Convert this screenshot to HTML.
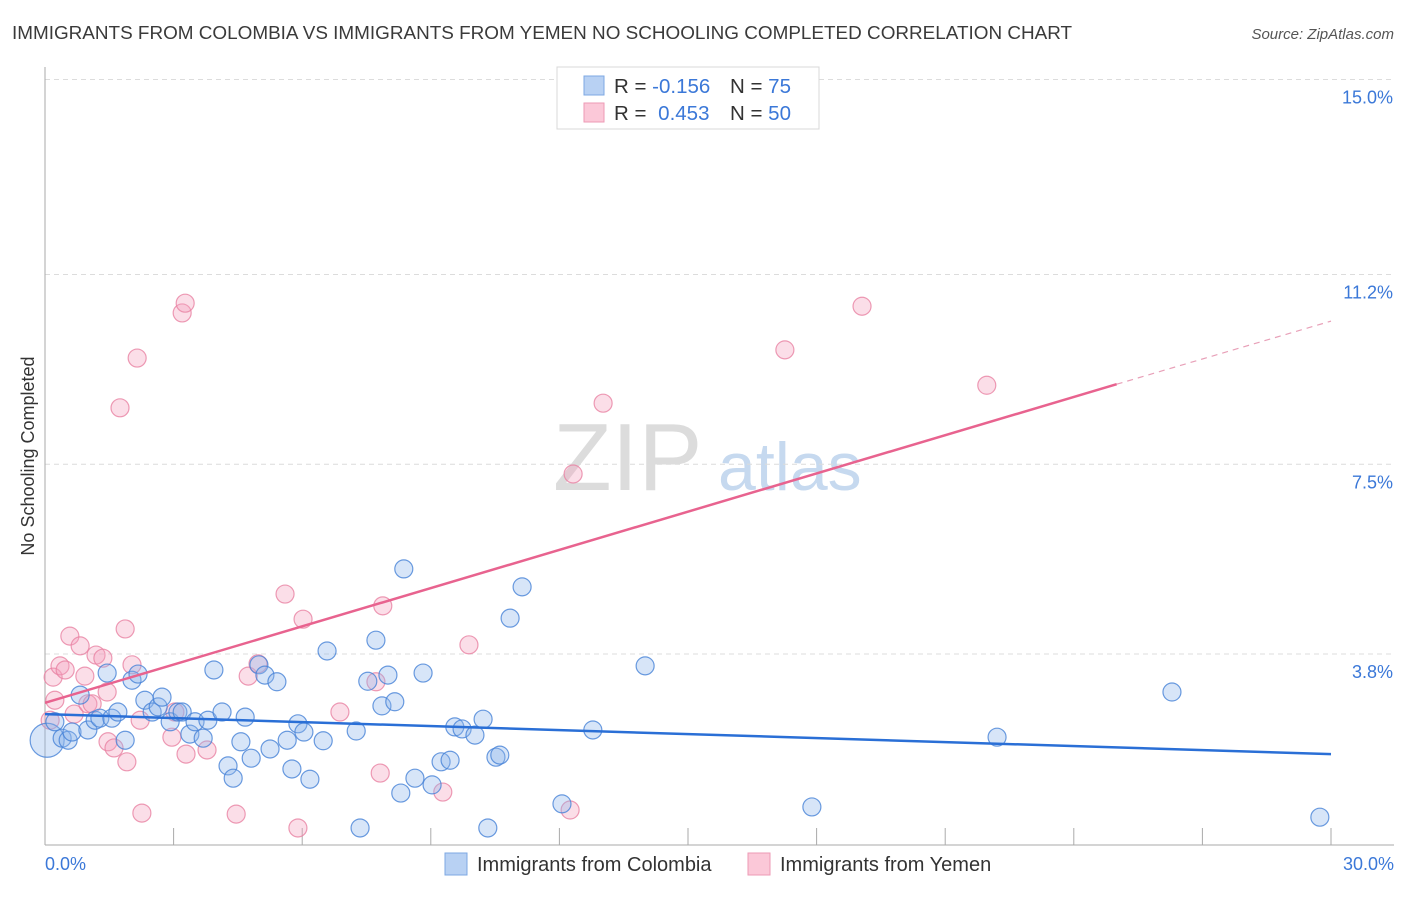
<!DOCTYPE html>
<html><head><meta charset="utf-8">
<style>
body{margin:0;background:#fff;font-family:"Liberation Sans",sans-serif;}
svg text{font-family:"Liberation Sans",sans-serif;}
</style></head>
<body>
<svg id="chart" width="1406" height="892" viewBox="0 0 1406 892">
<text x="12" y="39" font-size="18.9" fill="#3a3a3a">IMMIGRANTS FROM COLOMBIA VS IMMIGRANTS FROM YEMEN NO SCHOOLING COMPLETED CORRELATION CHART</text>
<text x="1394" y="39" font-size="15" font-style="italic" fill="#555" text-anchor="end">Source: ZipAtlas.com</text>
<text transform="translate(34,456) rotate(-90)" font-size="18" fill="#333" text-anchor="middle">No Schooling Completed</text>
<g>
<text x="553" y="490" font-size="96" font-family="Liberation Serif,serif" fill="#dcdcdc">ZIP</text>
<text x="718" y="490" font-size="68" fill="#c6d9ef">atlas</text>
</g>
<g id="grid"></g>
<g id="axes"></g>
<g id="points"></g>
<g id="trends"></g>
<g>
<rect x="557" y="67" width="262" height="62" fill="#fff" stroke="#d8d8d8"/>
<rect x="584" y="76" width="20" height="19" fill="#b8d1f3" stroke="#7ea8e3"/>
<rect x="584" y="103" width="20" height="19" fill="#fbc8d8" stroke="#ee9ab5"/>
<text x="614" y="93" font-size="20.5" fill="#333">R = <tspan fill="#3b78d8">-0.156</tspan></text>
<text x="730" y="93" font-size="20.5" fill="#333">N = <tspan fill="#3b78d8">75</tspan></text>
<text x="614" y="120" font-size="20.5" fill="#333">R = <tspan fill="#3b78d8" dx="6">0.453</tspan></text>
<text x="730" y="120" font-size="20.5" fill="#333">N = <tspan fill="#3b78d8">50</tspan></text>
</g>
<g>
<rect x="445" y="853" width="22" height="22" fill="#b8d1f3" stroke="#7ea8e3"/>
<text x="477" y="871" font-size="20" fill="#333">Immigrants from Colombia</text>
<rect x="748" y="853" width="22" height="22" fill="#fbc8d8" stroke="#ee9ab5"/>
<text x="780" y="871" font-size="20" fill="#333">Immigrants from Yemen</text>
</g>
</svg>
<script>
const colX=[0.05,0.23,0.40,0.54,0.63,0.82,1.00,1.17,1.28,1.45,1.56,1.70,1.87,2.03,2.17,2.33,2.50,2.64,2.73,2.92,3.10,3.20,3.38,3.50,3.69,3.80,3.94,4.13,4.27,4.39,4.57,4.67,4.81,4.99,5.13,5.25,5.41,5.65,5.76,5.90,6.04,6.18,6.49,6.58,7.26,7.35,7.53,7.72,7.86,8.00,8.16,8.30,8.37,8.63,8.82,9.03,9.24,9.45,9.56,9.73,10.03,10.22,10.33,10.52,10.61,10.85,11.13,12.06,12.78,14.00,17.89,22.21,26.29,29.74];
const colY=[2.12,2.48,2.16,2.12,2.28,3.00,2.32,2.51,2.55,3.43,2.55,2.67,2.12,3.29,3.41,2.90,2.67,2.77,2.96,2.48,2.67,2.67,2.24,2.48,2.16,2.51,3.49,2.67,1.62,1.38,2.09,2.57,1.77,3.59,3.39,1.95,3.26,2.12,1.56,2.44,2.28,1.36,2.11,3.86,2.30,0.41,3.27,4.07,2.79,3.39,2.87,1.09,5.46,1.38,3.43,1.25,1.70,1.73,2.38,2.34,2.22,2.53,0.41,1.79,1.83,4.50,5.11,0.88,2.32,3.57,0.82,2.18,3.06,0.62];
const yemX=[0.12,0.19,0.23,0.35,0.47,0.58,0.68,0.82,0.93,1.00,1.10,1.19,1.35,1.45,1.47,1.61,1.75,1.87,1.91,2.03,2.15,2.22,2.26,2.96,3.03,3.20,3.27,3.29,3.78,4.46,4.74,4.97,5.60,5.90,6.02,6.88,7.72,7.82,7.88,9.28,9.89,12.25,12.32,13.02,17.26,19.06,21.97];
const yemY=[2.51,3.35,2.90,3.57,3.49,4.15,2.63,3.96,3.37,2.83,2.83,3.78,3.72,3.06,2.09,1.97,8.60,4.29,1.70,3.59,9.57,2.51,0.70,2.18,2.67,10.45,10.64,1.85,1.93,0.68,3.37,3.61,4.97,0.41,4.48,2.67,3.26,1.48,4.74,1.11,3.98,0.76,7.31,8.69,9.73,10.58,9.04];
const colTrend=[2.63,1.85];
const yemTrend=[2.85,9.06,10.29];
const yemTrendX=[0,25,30];
const yTicks=[3.8,7.5,11.2,15.0];
const yTickLabels=["3.8%","7.5%","11.2%","15.0%"];
const xTickLabels=["0.0%","30.0%"];

const NS="http://www.w3.org/2000/svg";
const X0=45,X1=1331,Y0=849,PPY=51.3;
function sx(v){return X0+(X1-X0)*v/30;}
function sy(v){return Y0-v*PPY;}
function mk(tag,attrs,parent){const e=document.createElementNS(NS,tag);for(const k in attrs)e.setAttribute(k,attrs[k]);parent.appendChild(e);return e;}
const grid=document.getElementById('grid'),axes=document.getElementById('axes'),pts=document.getElementById('points'),tr=document.getElementById('trends');
yTicks.forEach((t,i)=>{
  const l=mk('line',{x1:45,x2:1394,y1:sy(t),y2:sy(t),stroke:'#dcdcdc','stroke-dasharray':'5,4'},grid);
  
  
  const tx=mk('text',{x:1393,y:sy(t)+24,'font-size':18,fill:'#3b78d8','text-anchor':'end'},grid);
  tx.textContent=yTickLabels[i];
  
  
});
const ya=mk('line',{x1:45,x2:45,y1:67,y2:845,stroke:'#aaa'},axes);


const xa=mk('line',{x1:45,x2:1394,y1:845,y2:845,stroke:'#aaa'},axes);


for(let i=1;i<=10;i++){
  const t=mk('line',{x1:sx(i*3),x2:sx(i*3),y1:828,y2:845,stroke:'#aaa'},axes);
  
  
}
const xl0=mk('text',{x:45,y:870,'font-size':18,fill:'#3b78d8'},axes);xl0.textContent=xTickLabels[0];


const xl1=mk('text',{x:1394,y:870,'font-size':18,fill:'#3b78d8','text-anchor':'end'},axes);xl1.textContent=xTickLabels[1];


yemX.forEach((x,i)=>{
  const c=mk('circle',{cx:sx(x),cy:sy(yemY[i]),r:9,fill:'rgba(244,160,188,0.35)',stroke:'rgba(232,130,162,0.8)','stroke-width':1.2},pts);
  
  
});
colX.forEach((x,i)=>{
  const c=mk('circle',{cx:sx(x),cy:sy(colY[i]),r:(i===0?17:9),fill:'rgba(140,180,235,0.35)',stroke:'rgba(70,130,215,0.8)','stroke-width':1.2},pts);
  
  
});
const bl=mk('line',{x1:sx(0),y1:sy(colTrend[0]),x2:sx(30),y2:sy(colTrend[1]),stroke:'#2a6fd6','stroke-width':2.5},tr);


const pl=mk('line',{x1:sx(yemTrendX[0]),y1:sy(yemTrend[0]),x2:sx(yemTrendX[1]),y2:sy(yemTrend[1]),stroke:'#e8638f','stroke-width':2.5},tr);


const pd=mk('line',{x1:sx(yemTrendX[1]),y1:sy(yemTrend[1]),x2:sx(yemTrendX[2]),y2:sy(yemTrend[2]),stroke:'#e8a0b8','stroke-width':1.2,'stroke-dasharray':'6,5'},tr);


</script>
</body></html>
